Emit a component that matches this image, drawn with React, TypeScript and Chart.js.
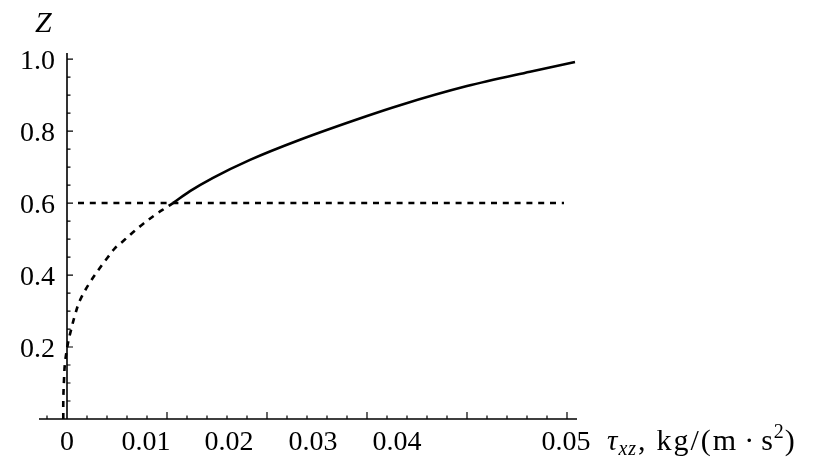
import React, { useEffect, useRef } from "react";
import { Chart, registerables } from "chart.js";

Chart.register(...registerables);

// ---- data ----
const upperTau = [0.0106, 0.0123, 0.0146, 0.0183, 0.0233, 0.03, 0.0333, 0.04, 0.0463, 0.0508];
const upperZ = [0.6, 0.633, 0.67, 0.72, 0.776, 0.842, 0.872, 0.925, 0.965, 0.992];

const lowerTau = [-0.00037, -0.00037, -0.0003, -0.0002, 0.0001, 0.0004, 0.0008, 0.0013, 0.0023, 0.0035, 0.0041, 0.0048, 0.0056, 0.0066, 0.0076, 0.0088, 0.01, 0.0106];
const lowerZ = [0.0, 0.053, 0.108, 0.156, 0.211, 0.247, 0.289, 0.33, 0.38, 0.428, 0.45, 0.475, 0.494, 0.519, 0.542, 0.567, 0.589, 0.6];

const levelTau = [0.0011, 0.0497];
const levelZ = [0.6, 0.6];

const xTickValues = [0, 0.0079, 0.0162, 0.0246, 0.033, 0.0499];
const xTickLabels = ["0", "0.01", "0.02", "0.03", "0.04", "0.05"];
const yTickValues = [0.2, 0.4, 0.6, 0.8, 1.0];
const yTickLabels = ["0.2", "0.4", "0.6", "0.8", "1.0"];

const X_MIN = -0.0028;
const X_MAX = 0.051;
const Y_MIN = 0;
const Y_MAX = 1.017;

const SERIF = '"Liberation Serif", "DejaVu Serif", serif';

const toPts = (xs: number[], ys: number[]) => xs.map((v, i) => ({ x: v, y: ys[i] }));

const axesPlugin = {
  id: "mathAxes",
  beforeDatasetsDraw(chart: any) {
    const { ctx, scales } = chart;
    const x = scales.x;
    const y = scales.y;
    const x0 = x.getPixelForValue(0);
    const y0 = y.getPixelForValue(0);
    ctx.save();
    ctx.strokeStyle = "#000";
    ctx.lineWidth = 1.6;
    ctx.beginPath();
    ctx.moveTo(x.left, y0);
    ctx.lineTo(x.right, y0);
    ctx.moveTo(x0, y.bottom);
    ctx.lineTo(x0, y.top);
    ctx.stroke();

    ctx.lineWidth = 1.2;
    ctx.beginPath();
    for (let i = -1; i <= 25; i++) {
      if (i === 0) continue;
      const px = x.getPixelForValue(i * 0.002);
      const len = i % 5 === 0 ? 7 : 3.5;
      ctx.moveTo(px, y0);
      ctx.lineTo(px, y0 - len);
    }
    for (let i = 1; i <= 20; i++) {
      const py = y.getPixelForValue(i * 0.05);
      const len = i % 4 === 0 ? 6 : 3.5;
      ctx.moveTo(x0, py);
      ctx.lineTo(x0 + len, py);
    }
    ctx.stroke();

    ctx.fillStyle = "#000";
    ctx.font = `28px ${SERIF}`;
    ctx.textBaseline = "alphabetic";
    ctx.textAlign = "center";
    xTickValues.forEach((v, i) => {
      ctx.fillText(xTickLabels[i], x.getPixelForValue(v), y0 + 31);
    });
    ctx.textAlign = "right";
    yTickValues.forEach((v, i) => {
      ctx.fillText(yTickLabels[i], x0 - 12, y.getPixelForValue(v) + 10);
    });

    // axis titles
    ctx.textAlign = "left";
    ctx.font = `italic 30px ${SERIF}`;
    ctx.fillText("Z", 35, 32);

    const base = y0 + 31;
    let cx = 607;
    const put = (t: string, font: string, dy: number, gapAfter: number, ls = "0px") => {
      ctx.font = font;
      (ctx as any).letterSpacing = ls;
      ctx.fillText(t, cx, base + dy);
      cx += ctx.measureText(t).width + gapAfter;
      (ctx as any).letterSpacing = "0px";
    };
    put("τ", `italic 29px ${SERIF}`, 0, 1);
    put("xz", `italic 20px ${SERIF}`, 5, 1, "1px");
    put(",", `30px ${SERIF}`, 0, 11);
    put("kg/(m", `30px ${SERIF}`, 0, 6, "2px");
    put("·", `30px ${SERIF}`, 0, 7);
    put("s", `30px ${SERIF}`, 0, 1);
    put("2", `20px ${SERIF}`, -12, 1);
    put(")", `30px ${SERIF}`, 0, 0);
    ctx.restore();
  },
};

export default function App() {
  const ref = useRef<HTMLCanvasElement | null>(null);

  useEffect(() => {
    document.body.style.margin = "0";
    const canvas = ref.current;
    if (!canvas) return;
    const chart = new Chart(canvas, {
      type: "scatter",
      data: {
        datasets: [
          {
            data: toPts(upperTau, upperZ),
            showLine: true,
            borderColor: "#000",
            borderWidth: 2.6,
            pointRadius: 0,
            cubicInterpolationMode: "monotone",
            clip: 6,
          },
          {
            data: toPts(lowerTau, lowerZ),
            showLine: true,
            borderColor: "#000",
            borderWidth: 2.6,
            borderDash: [6, 6],
            borderCapStyle: "butt",
            pointRadius: 0,
            tension: 0.35,
            clip: 6,
          },
          {
            data: toPts(levelTau, levelZ),
            showLine: true,
            borderColor: "#000",
            borderWidth: 2.4,
            borderDash: [6, 5.8],
            pointRadius: 0,
            clip: 6,
          },
        ],
      },
      options: {
        responsive: false,
        animation: false,
        events: [],
        layout: { padding: { left: 39, right: 238, top: 53, bottom: 50 } },
        plugins: { legend: { display: false }, tooltip: { enabled: false }, title: { display: false } },
        scales: {
          x: { type: "linear", min: X_MIN, max: X_MAX, display: false },
          y: { type: "linear", min: Y_MIN, max: Y_MAX, display: false },
        },
      },
      plugins: [axesPlugin],
    });
    return () => chart.destroy();
  }, []);

  return (
    <div style={{ width: 815, height: 469, background: "#fff" }}>
      <canvas ref={ref} width={815} height={469} />
    </div>
  );
}
